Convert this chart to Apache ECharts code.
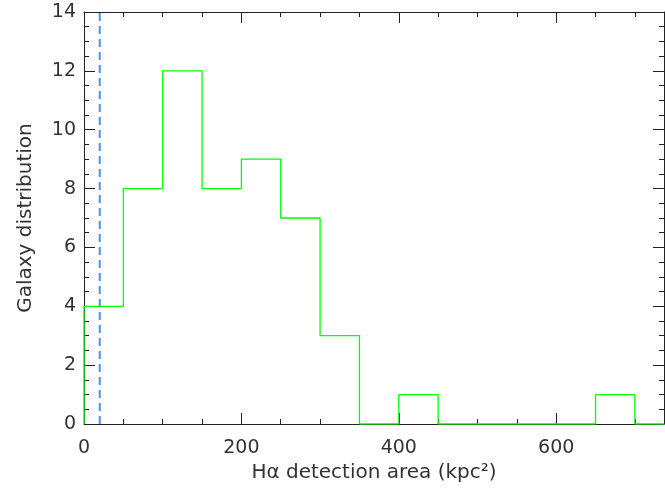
<!DOCTYPE html>
<html><head><meta charset="utf-8">
<script src="https://cdn.jsdelivr.net/npm/echarts@6/dist/echarts.min.js"></script>
<style>html,body{margin:0;padding:0;background:#fff}#c{width:665px;height:488px}</style>
</head><body><div id="c"></div>
<script>
const binStarts = [0, 50, 100, 150, 200, 250, 300, 350, 400, 450, 500, 550, 600, 650, 700];
const counts    = [4, 8, 12, 8, 9, 7, 3, 0, 1, 0, 0, 0, 0, 1, 0];
const binWidth = 50;
const xMax = 737;
const yMax = 14;
const dashedX = 20;
const xTitle = 'H\u03b1 detection area (kpc\u00b2)';
const yTitle = 'Galaxy distribution';

const stepData = [[binStarts[0], 0]];
binStarts.forEach((s, i) => {
  const e = Math.min(s + binWidth, xMax);
  stepData.push([s, counts[i]]);
  stepData.push([i === binStarts.length - 1 ? xMax : e, counts[i]]);
});
stepData.push([xMax, 0]);

const font = 'DejaVu Sans';
const axisCol = '#222';
const textCol = '#333';
function xAx(show, pos) {
  return {
    type: 'value', min: 0, max: xMax, interval: 200, position: pos,
    axisLine: {show: true, onZero: false, lineStyle: {color: axisCol, width: 1}},
    axisTick: {show: true, inside: true, length: 11, lineStyle: {color: axisCol}},
    minorTick: {show: true, splitNumber: 4, length: 5, lineStyle: {color: axisCol}},
    splitLine: {show: false},
    axisLabel: {show: show, margin: 15, showMaxLabel: false, fontFamily: font, fontSize: 19, color: textCol},
    name: show ? xTitle : '', nameLocation: 'middle', nameGap: 38,
    nameTextStyle: {fontFamily: font, fontSize: 20, color: textCol}
  };
}
function yAx(show, pos) {
  return {
    type: 'value', min: 0, max: yMax, interval: 2, position: pos,
    axisLine: {show: true, onZero: false, lineStyle: {color: axisCol, width: 1}},
    axisTick: {show: true, inside: true, length: 11, lineStyle: {color: axisCol}},
    minorTick: {show: true, splitNumber: 4, length: 5, lineStyle: {color: axisCol}},
    splitLine: {show: false},
    axisLabel: {show: show, margin: 8, fontFamily: font, fontSize: 19, color: textCol},
    name: show ? yTitle : '', nameLocation: 'middle', nameGap: 48,
    nameTextStyle: {fontFamily: font, fontSize: 20, color: textCol}
  };
}
const chart = echarts.init(document.getElementById('c'), null, {renderer: 'canvas'});
chart.setOption({
  animation: false,
  backgroundColor: '#fff',
  grid: {left: 84, right: 1, top: 12, bottom: 64, containLabel: false, outerBoundsMode: 'none'},
  xAxis: [xAx(true, 'bottom'), xAx(false, 'top')],
  yAxis: [yAx(true, 'left'), yAx(false, 'right')],
  series: [
    {type: 'line', data: [[dashedX, 0], [dashedX, yMax]], symbol: 'none', z: 1,
     lineStyle: {color: '#4d8ff5', width: 2, type: [8, 5]}},
    {type: 'line', data: stepData, symbol: 'none', z: 3,
     lineStyle: {color: '#00ff00', width: 1.3}}
  ]
});
</script></body></html>
